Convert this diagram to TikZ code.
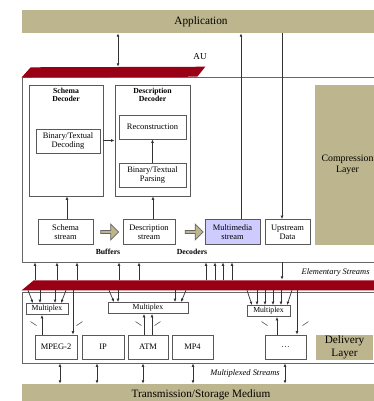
\documentclass[tikz,border=0pt]{standalone}
\usepackage{fontspec}
\setmainfont{Liberation Serif}
\usetikzlibrary{arrows.meta,shapes.arrows}
\definecolor{layerKhaki}{RGB}{189,181,142}
\definecolor{barRed}{RGB}{153,0,21}
\definecolor{streamLavender}{RGB}{206,204,255}

\begin{document}
\begin{tikzpicture}
[x=0.025cm,y=-0.025cm,
 boxSize/.style 2 args={minimum width=#1*0.025cm,minimum height=#2*0.025cm},
 frameDecorate/.style={draw=black!60,line width=0.6pt,inner sep=0pt},
 boxDecorate/.style={draw=black!65,line width=0.6pt,fill=white,align=center,
   inner sep=1pt,font=\fontsize{6}{6.5}\selectfont},
 titleDecorate/.style={align=center,inner sep=2pt,font=\fontsize{5.5}{6}\selectfont\bfseries},
 layerDecorate/.style={fill=layerKhaki,align=center,inner sep=1pt,
   font=\fontsize{8}{9}\selectfont},
 labelDecorate/.style={inner sep=1pt,font=\fontsize{6.5}{7}\selectfont},
 italicDecorate/.style={inner sep=1pt,font=\fontsize{6}{7}\selectfont\itshape},
 boldDecorate/.style={inner sep=1pt,font=\fontsize{5.5}{6}\selectfont\bfseries},
 blockArrow/.style={single arrow,draw=black!60,fill=layerKhaki,line width=0.5pt,
   minimum height=18*0.025cm,minimum width=16*0.025cm,
   single arrow head extend=0.04cm,inner sep=0pt},
 arrowDecorate/.style={->,>={Latex[length=2.4pt,width=2pt]},draw=black!80,line width=0.5pt},
 markDecorate/.style={draw=black!70,line width=0.4pt}]
%%
\useasboundingbox (0,0) rectangle (374,401);
\fill[white] (0,0) rectangle (374,401);
\clip (0,0) rectangle (374,401);
%%
%% application and medium
\node[layerDecorate,boxSize={358}{23}] (app) at (201,21.5) {Application};
\node[layerDecorate,boxSize={358}{21}] (tsm) at (201,394.5) {Transmission/Storage Medium};
%%
%% compression layer
\node[frameDecorate,boxSize={358}{185}] (comp) at (201,169.5) {};
\node[layerDecorate,font=\fontsize{7}{8}\selectfont,boxSize={65}{160}] (complay) at (347.5,165) {Compression\\Layer};
\node[boxSize={183}{10},inner sep=0pt] (aubar) at (113.5,72) {};
\fill[barRed] (aubar.south west) -- ++(9,-10) -- (aubar.north east) -- ++(-8,10) -- cycle;
\node[labelDecorate] (au) at (200,57) {AU};
%% decoders
\node[boxDecorate,boxSize={74}{111}] (schdec) at (66,140.5) {};
\node[titleDecorate,anchor=north] (schdecT) at (schdec.north) {Schema\\Decoder};
\node[boxDecorate,boxSize={75}{111}] (descdec) at (152.5,140.5) {};
\node[titleDecorate,anchor=north] (descdecT) at (descdec.north) {Description\\Decoder};
\node[boxDecorate,boxSize={64}{24}] (btdec) at (68,141) {Binary/Textual\\Decoding};
\node[boxDecorate,boxSize={67}{24}] (recon) at (152.5,127) {Reconstruction};
\node[boxDecorate,boxSize={67}{24}] (btparse) at (152.5,175) {Binary/Textual\\Parsing};
%% streams
\foreach \nodename/\x/\w/\col/\txt in {
  schstr/65.5/55/white/{Schema\\stream}, descstr/149/52/white/{Description\\stream},
  mmstr/232.5/55/streamLavender/{Multimedia\\stream}, upstr/287.5/45/white/{Upstream\\Data}}
{
  \node[boxDecorate,fill=\col,boxSize={\w}{25}] (\nodename) at (\x,232) {\txt};
}
\node[blockArrow] (flowA) at (109,232) {};
\node[blockArrow] (flowB) at (193.5,232) {};
\node[boldDecorate] (buffers) at (108,252) {Buffers};
\node[boldDecorate] (decoders) at (192,252) {Decoders};
%% connectors
\draw[arrowDecorate,<->] (app.south -| 118,0) -- (aubar.north -| 118,0);
\draw[arrowDecorate] (mmstr.north -| 241,0) -- (app.south -| 241,0);
\draw[arrowDecorate] (app.south -| 282,0) -- (upstr.north -| 282,0);
\draw[arrowDecorate] (schstr.north -| 67,0) -- (schdec.south -| 67,0);
\draw[arrowDecorate] (descstr.north -| 153,0) -- (descdec.south -| 153,0);
\draw[arrowDecorate] (btparse) -- (recon);
\draw[arrowDecorate] (schdec) -- (descdec);
%%
%% elementary streams
\node[boxSize={358}{10},inner sep=0pt] (esbar) at (201,285) {};
\fill[barRed] (esbar.south west) -- ++(12,-10) -| (esbar.south east) -- cycle;
\node[italicDecorate,anchor=west] (eslabel) at (300,272) {Elementary Streams};
\foreach \x in {35,57,77,119,139,206,215,223,232}
  \draw[arrowDecorate] (esbar.north -| \x,0) -- (comp.south -| \x,0);
\draw[arrowDecorate] (comp.south -| 282,0) -- (esbar.north -| 282,0);
%%
%% delivery layer
\node[frameDecorate,boxSize={358}{71}] (deliv) at (201,327.5) {};
\foreach \nodename/\x/\y/\w in {mux1/47/309/42, mux2/148/308/80, mux3/268.5/311/43}
{
  \node[boxDecorate,font=\fontsize{5.5}{6}\selectfont,boxSize={\w}{11}] (\nodename) at (\x,\y) {Multiplex};
}
\foreach \nodename/\x/\w/\txt in {
  mpeg/56/42/MPEG-2, ip/103/42/IP, atm/148/40/ATM, mpfour/192.5/41/MP4, more/285.5/41/\dots}
{
  \node[boxDecorate,boxSize={\w}{24}] (\nodename) at (\x,347) {\txt};
}
\node[layerDecorate,boxSize={57}{25}] (delivlay) at (344.5,347.5) {Delivery\\Layer};
%% streams into multiplexers
\foreach \a/\b in {28/33, 40/40, 55/55, 66/61}
  \draw[arrowDecorate] (esbar.south -| \a,0) -- (mux1.north -| \b,0);
\foreach \a/\b in {109/114, 118/118, 175/175, 186/181}
  \draw[arrowDecorate] (esbar.south -| \a,0) -- (mux2.north -| \b,0);
\foreach \a/\b in {247/252, 257/257, 265/265, 273/273, 281/281, 292/287}
  \draw[arrowDecorate] (esbar.south -| \a,0) -- (mux3.north -| \b,0);
%% multiplexers and transport
\draw[arrowDecorate] (mpeg.north -| 42,0) -- (mux1.south -| 42,0);
\draw[arrowDecorate] (esbar.south -| 73,0) -- (mpeg.north -| 73,0);
\foreach \x in {144,152}
  \draw[arrowDecorate] (atm.north -| \x,0) -- (mux2.south -| \x,0);
\draw[arrowDecorate] (more.north -| 277,0) -- (mux3.south -| 277,0);
\draw[arrowDecorate] (esbar.south -| 297,0) -- (more.north -| 297,0);
\foreach \nodename/\l/\r in {mpeg/-4/5, atm/8/-8, more/-3/2}
{
  \draw[markDecorate] (\nodename.north west) ++(\l,-13) -- ++(6,4);
  \draw[markDecorate] (\nodename.north east) ++(\r,-13) -- ++(-6,4);
}
%% multiplexed streams
\foreach \x in {60,97,143,193,285}
  \draw[arrowDecorate,<->] (deliv.south -| \x,0) -- (tsm.north -| \x,0);
\node[italicDecorate] (mslabel) at (245,373) {Multiplexed Streams};
\end{tikzpicture}
\end{document}
